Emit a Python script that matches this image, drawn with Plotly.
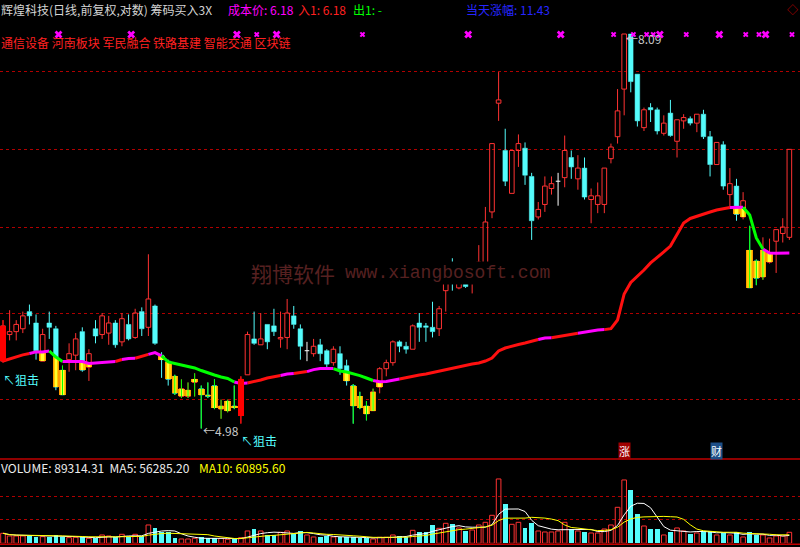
import numpy as np
import pandas as pd
import plotly.graph_objects as go

# ---------------- data ----------------
open_ = [5.41, 5.59, 5.61, 5.63, 5.75, 5.67, 5.41, 5.67, 5.63, 5.35,
         5.42, 5.45, 5.61, 5.37, 5.63, 5.59, 5.60, 5.67, 5.54, 5.66,
         5.57, 5.75, 5.64, 5.79, 5.45, 5.41, 5.31, 5.18, 5.18, 5.27,
         5.23, 5.19, 5.25, 5.10, 5.09, 5.12, 5.06, 5.32, 5.56, 5.52,
         5.66, 5.65, 5.56, 5.57, 5.72, 5.63, 5.48, 5.46, 5.52, 5.48,
         5.40, 5.46, 5.38, 5.25, 5.18, 5.12, 5.09, 5.24, 5.36, 5.40,
         5.54, 5.51, 5.49, 5.67, 5.65, 5.64, 5.63, 5.90, 6.08, 5.92,
         6.04, 5.96, 5.99, 6.05, 6.50, 7.43, 7.01, 6.65, 7.01, 7.03,
         6.79, 6.46, 6.56, 6.69, 6.75, 6.78, 6.95, 6.77, 6.86, 6.60,
         6.56, 6.56, 6.94, 7.13, 7.56, 8.09, 7.70, 7.21, 7.39, 7.37,
         7.16, 7.34, 7.09, 7.27, 7.29, 7.25, 7.33, 7.13, 6.89, 7.06,
         6.64, 6.71, 6.46, 6.20, 6.12, 6.00, 6.11, 6.27, 6.33, 6.30]
high_ = [5.69, 5.76, 5.69, 5.75, 5.80, 5.73, 5.63, 5.75, 5.65, 5.38,
         5.53, 5.60, 5.64, 5.49, 5.69, 5.74, 5.72, 5.69, 5.74, 5.73,
         5.77, 5.78, 6.17, 5.80, 5.47, 5.42, 5.32, 5.29, 5.27, 5.33,
         5.25, 5.27, 5.29, 5.16, 5.16, 5.25, 5.31, 5.61, 5.75, 5.74,
         5.66, 5.77, 5.75, 5.84, 5.79, 5.66, 5.54, 5.56, 5.56, 5.49,
         5.51, 5.51, 5.42, 5.26, 5.21, 5.15, 5.23, 5.37, 5.42, 5.55,
         5.55, 5.54, 5.66, 5.74, 5.67, 5.82, 5.79, 6.07, 6.14, 6.05,
         6.07, 6.08, 6.24, 6.54, 7.07, 7.72, 7.20, 7.01, 7.15, 7.08,
         6.82, 6.58, 6.79, 6.79, 6.82, 7.14, 7.01, 6.97, 6.95, 6.69,
         6.74, 6.86, 7.07, 7.56, 8.09, 8.09, 7.70, 7.39, 7.43, 7.39,
         7.32, 7.46, 7.28, 7.33, 7.31, 7.33, 7.37, 7.18, 7.08, 7.09,
         6.86, 6.77, 6.66, 6.39, 6.13, 6.30, 6.29, 6.36, 6.45, 7.02]
low_ = [5.40, 5.55, 5.55, 5.60, 5.66, 5.42, 5.41, 5.56, 5.22, 5.19,
        5.34, 5.35, 5.34, 5.28, 5.53, 5.56, 5.52, 5.50, 5.51, 5.55,
        5.56, 5.58, 5.58, 5.52, 5.30, 5.25, 5.19, 5.17, 5.17, 5.18,
        4.98, 5.17, 5.10, 5.04, 5.08, 5.10, 5.01, 5.32, 5.52, 5.52,
        5.49, 5.58, 5.50, 5.49, 5.63, 5.42, 5.41, 5.44, 5.41, 5.36,
        5.38, 5.32, 5.25, 5.01, 5.10, 5.03, 5.09, 5.20, 5.31, 5.38,
        5.47, 5.46, 5.49, 5.54, 5.54, 5.57, 5.58, 5.75, 5.90, 5.91,
        5.92, 5.88, 5.96, 6.01, 6.45, 7.27, 6.71, 6.65, 6.87, 6.72,
        6.28, 6.44, 6.50, 6.64, 6.55, 6.70, 6.77, 6.68, 6.60, 6.41,
        6.49, 6.49, 6.90, 7.07, 7.32, 7.53, 7.22, 7.18, 7.26, 7.15,
        7.14, 7.13, 6.95, 7.20, 7.23, 7.17, 7.11, 6.79, 6.89, 6.68,
        6.54, 6.43, 6.44, 5.92, 5.94, 5.98, 6.10, 6.03, 6.26, 6.28]
close_ = [5.65, 5.61, 5.66, 5.72, 5.72, 5.48, 5.59, 5.64, 5.24, 5.19,
          5.46, 5.56, 5.35, 5.46, 5.58, 5.72, 5.67, 5.52, 5.70, 5.56,
          5.74, 5.63, 5.84, 5.53, 5.42, 5.29, 5.20, 5.23, 5.22, 5.29,
          5.19, 5.18, 5.11, 5.12, 5.15, 5.11, 5.29, 5.59, 5.53, 5.56,
          5.54, 5.61, 5.57, 5.74, 5.66, 5.51, 5.48, 5.51, 5.46, 5.39,
          5.49, 5.36, 5.28, 5.12, 5.11, 5.07, 5.21, 5.36, 5.40, 5.54,
          5.51, 5.49, 5.65, 5.64, 5.64, 5.61, 5.77, 6.04, 5.96, 6.01,
          5.93, 6.05, 6.11, 6.42, 7.07, 7.46, 6.75, 7.01, 7.07, 6.80,
          6.43, 6.52, 6.71, 6.73, 6.75, 7.01, 6.87, 6.86, 6.62, 6.63,
          6.63, 6.86, 7.04, 7.36, 8.09, 7.63, 7.27, 7.37, 7.37, 7.18,
          7.25, 7.14, 7.28, 7.30, 7.25, 7.33, 7.13, 6.89, 7.08, 6.71,
          6.73, 6.48, 6.59, 5.92, 5.99, 6.20, 6.18, 6.36, 6.38, 7.02]
volume = [81200, 59550, 59550, 59550, 59550, 54130, 54130, 54130, 67670, 54130,
          46010, 48720, 51430, 40600, 40600, 67670, 59550, 48720, 73080, 48720,
          73080, 59550, 148870, 127220, 89320, 89320, 46010, 35190, 35190, 40600,
          48720, 40600, 40600, 40600, 32480, 32480, 46010, 100150, 116390, 100150,
          67670, 67670, 89320, 100150, 75790, 100150, 67670, 51430, 51430, 59550,
          51430, 51430, 51430, 51430, 40600, 40600, 35190, 48720, 48720, 67670,
          59550, 51430, 105560, 89320, 89320, 148870, 121800, 162400, 156990, 124510,
          100150, 108270, 148870, 170520, 227360, 522390, 319390, 154280, 170520, 124510,
          165110, 100150, 92030, 92030, 100150, 170520, 116390, 100150, 92030, 83910,
          83910, 116390, 148870, 292320, 514270, 433070, 238190, 140750, 116390, 116390,
          67670, 92030, 124510, 100150, 75790, 83910, 100150, 100150, 67670, 83910,
          67670, 92030, 51430, 92030, 67670, 67670, 43310, 59550, 59550, 89314.31]
cost_line = [5.411, 5.425, 5.438, 5.452, 5.461, 5.472, 5.472, 5.478, 5.438, 5.408,
             5.407, 5.407, 5.407, 5.395, 5.398, 5.403, 5.405, 5.408, 5.421, 5.428,
             5.429, 5.441, 5.455, 5.467, 5.445, 5.405, 5.395, 5.385, 5.375, 5.365,
             5.348, 5.332, 5.319, 5.306, 5.296, 5.273, 5.264, 5.267, 5.275, 5.286,
             5.299, 5.306, 5.315, 5.325, 5.328, 5.335, 5.341, 5.354, 5.361, 5.362,
             5.361, 5.345, 5.338, 5.328, 5.315, 5.299, 5.283, 5.275, 5.276, 5.286,
             5.292, 5.302, 5.309, 5.319, 5.325, 5.335, 5.345, 5.354, 5.364, 5.371,
             5.381, 5.391, 5.398, 5.411, 5.431, 5.478, 5.498, 5.512, 5.522, 5.532,
             5.546, 5.556, 5.566, 5.568, 5.577, 5.584, 5.590, 5.599, 5.607, 5.618,
             5.621, 5.624, 5.631, 5.691, 5.876, 5.960, 6.004, 6.052, 6.105, 6.150,
             6.188, 6.233, 6.326, 6.412, 6.448, 6.467, 6.483, 6.499, 6.515, 6.523,
             6.535, 6.537, 6.537, 6.475, 6.295, 6.210, 6.180, 6.178, 6.178, 6.180]
cost_color_runs = [("r", 5), ("m", 3), ("g", 2), ("m", 8), ("r", 1), ("m", 2), ("r", 2),
                   ("m", 2), ("g", 11), ("m", 2), ("r", 5), ("m", 2), ("r", 2), ("m", 4),
                   ("g", 6), ("m", 4), ("r", 21), ("m", 2), ("r", 4), ("m", 4), ("r", 19),
                   ("m", 2), ("g", 3), ("m", 4)]
signal_idx = [0, 36]
mark_big = [8, 19, 35, 41, 70, 84, 99, 108, 115]
mark_small = [38, 54, 92, 95, 97, 98, 103, 112, 114, 119]
event_idx = [94, 108]
event_text = ["涨", "财"]
event_bg = ["#a00000", "#1d4f88"]
main_grid = [5.162, 5.738, 6.378, 7.020, 7.723]
vol_grid = [195000, 378000]

title_text = "辉煌科技(日线,前复权,对数) 筹码买入3X"
cost_text = "成本价: 6.18"
in_text = "入1: 6.18"
out_text = "出1: -"
gain_text = "当天涨幅: 11.43"
concept_text = "通信设备 河南板块 军民融合 铁路基建 智能交通 区块链"
vol_text = "VOLUME: 89314.31  MA5: 56285.20"
ma10_text = "MA10: 60895.60"
signal_text = "↖狙击"
wm_cn = "翔博软件"
wm_url = "www.xiangbosoft.com"

# ---------------- styling ----------------
W, H = 800, 547
CJK = "Noto Sans CJK SC, Noto Sans, sans-serif"
UP = "#ff3232"
DN = "#54fcfc"
RED_LINE = "#ff1010"
MAG = "#ff00ff"
GRN = "#00ff00"
BODY_W = 0.7
MAIN_BOTTOM_PX = 458.0
VOL_TOP_PX = 459.0
VOL_BASE_PX = 543.3
X_RANGE = [-0.454, 120.61]
Y_RANGE = [0.68147, 0.92611]       # log10 price
VOL_RANGE = [0, 684500]
MARK_DX = 0.4


def pp(py):
    return 1 - py / H


O = np.array(open_)
Hh = np.array(high_)
L = np.array(low_)
C = np.array(close_)
line = np.array(cost_line)
V = np.array(volume, dtype=float)
n = len(C)
idx = np.arange(n)
up = C > O
dn = C < O
eq = C == O

fig = go.Figure()


def wicks(mask):
    xs, ys = [], []
    for i in np.where(mask)[0]:
        top, bot = max(O[i], C[i]), min(O[i], C[i])
        xs += [i, i, None, i, i, None]
        ys += [Hh[i], top, None, bot, L[i], None]
    return xs, ys


for mask, col in [(up, UP), (dn, DN), (eq, "#ffffff")]:
    xs, ys = wicks(mask)
    fig.add_trace(go.Scatter(x=xs, y=ys, mode="lines", line=dict(color=col, width=1),
                             hoverinfo="skip", xaxis="x", yaxis="y"))

# candle bodies
fig.add_trace(go.Bar(x=idx[up], y=(C - O)[up], base=O[up], width=BODY_W,
                     marker=dict(color="rgba(0,0,0,0)", line=dict(color=UP, width=1)),
                     xaxis="x", yaxis="y", hoverinfo="skip"))
fig.add_trace(go.Bar(x=idx[dn], y=(O - C)[dn], base=C[dn], width=BODY_W,
                     marker=dict(color=DN, line=dict(color=DN, width=0.5)),
                     xaxis="x", yaxis="y", hoverinfo="skip"))
dx, dy = [], []
for i in np.where(eq)[0]:
    dx += [i - BODY_W / 2, i + BODY_W / 2, None]
    dy += [O[i], O[i], None]
fig.add_trace(go.Scatter(x=dx, y=dy, mode="lines", line=dict(color="#ffffff", width=1),
                         hoverinfo="skip", xaxis="x", yaxis="y"))

# part of body below the cost line -> yellow gradient bar
bot = np.minimum(O, C)
top = np.minimum(np.maximum(O, C), line)
ymask = top > bot
for w, col in [(1.0, "#ff9a00"), (0.7, "#ffcc00"), (0.36, "#ffff30")]:
    fig.add_trace(go.Bar(x=idx[ymask], y=(top - bot)[ymask], base=bot[ymask], width=w,
                         marker=dict(color=col, line=dict(width=0)),
                         xaxis="x", yaxis="y", hoverinfo="skip"))
gx, gy = [], []
for i in np.where(np.maximum(O, C) < line)[0]:
    gx += [i, i, None]
    gy += [L[i], min(Hh[i], line[i]), None]
fig.add_trace(go.Scatter(x=gx, y=gy, mode="lines", line=dict(color=GRN, width=1),
                         hoverinfo="skip", xaxis="x", yaxis="y"))

# cost line (overlay axis y3)
codes = "".join(c * k for c, k in cost_color_runs)
cmap = {"r": RED_LINE, "m": MAG, "g": GRN}
runs = []
s = 0
while s < n:
    e = s
    while e + 1 < n and codes[e + 1] == codes[s]:
        e += 1
    runs.append((codes[s], s, e))
    s = e + 1
for code in ["r", "m", "g"]:
    xs, ys = [], []
    for c, s, e in runs:
        if c != code:
            continue
        for i in range(max(s - 1, 0), e + 1):
            xs.append(i)
            ys.append(line[i])
        xs.append(None)
        ys.append(None)
    fig.add_trace(go.Scatter(x=xs, y=ys, mode="lines", line=dict(color=cmap[code], width=3),
                             hoverinfo="skip", xaxis="x", yaxis="y3"))

# signal candles (overlay axis y4)
sx, sy = [], []
for i in signal_idx:
    sx += [i, i, None]
    sy += [L[i], Hh[i], None]
fig.add_trace(go.Scatter(x=sx, y=sy, mode="lines", line=dict(color="#ff0000", width=1),
                         hoverinfo="skip", xaxis="x", yaxis="y4"))
si = np.array(signal_idx)
fig.add_trace(go.Bar(x=si, y=np.abs(C[si] - O[si]), base=np.minimum(O[si], C[si]), width=0.8,
                     marker=dict(color="#ff0000", line=dict(width=0)),
                     xaxis="x", yaxis="y4", hoverinfo="skip"))

# top marks (overlay y5, linear 0..1)
MARK_ROW = 1 - 34.5 / MAIN_BOTTOM_PX
for lst, size in [(mark_big, 7), (mark_small, 5)]:
    fig.add_trace(go.Scatter(x=np.array(lst) + MARK_DX, y=[MARK_ROW] * len(lst), mode="markers",
                             marker=dict(symbol="x", size=size, color=MAG, line=dict(width=0)),
                             hoverinfo="skip", xaxis="x", yaxis="y5"))

# volume panel
fig.add_trace(go.Bar(x=idx[C >= O], y=V[C >= O], width=BODY_W,
                     marker=dict(color="rgba(0,0,0,0)", line=dict(color=UP, width=1)),
                     xaxis="x", yaxis="y2", hoverinfo="skip"))
fig.add_trace(go.Bar(x=idx[C < O], y=V[C < O], width=BODY_W,
                     marker=dict(color=DN, line=dict(width=0)),
                     xaxis="x", yaxis="y2", hoverinfo="skip"))
vs = pd.Series(V)
fig.add_trace(go.Scatter(x=idx, y=vs.rolling(5, min_periods=1).mean(), mode="lines",
                         line=dict(color="#ffffff", width=1), xaxis="x", yaxis="y2", hoverinfo="skip"))
fig.add_trace(go.Scatter(x=idx, y=vs.rolling(10, min_periods=1).mean(), mode="lines",
                         line=dict(color="#ffff00", width=1), xaxis="x", yaxis="y2", hoverinfo="skip"))

# ---------------- annotations ----------------
ann = []


def txt(t, px, py, color, size=12, family=CJK, **kw):
    d = dict(text=t, x=px / W, y=pp(py), xref="paper", yref="paper", xanchor="left",
             yanchor="middle", showarrow=False, font=dict(family=family, size=size, color=color))
    d.update(kw)
    ann.append(d)


txt(title_text, -1, 9, "#d4d4d4")
txt(cost_text, 226, 9, MAG)
txt(in_text, 296, 9, "#ff2020")
txt(out_text, 351, 9, GRN)
txt(gain_text, 464, 9, "#2626ff")
txt(concept_text, -1, 42, "#ff2020")
txt(vol_text, -1, 467.5, "#ececec")
txt(ma10_text, 197, 467.5, "#ffff00")
txt("◇", 785, 9.5, "#d00000", size=11)
txt(wm_cn, 249, 273, "#562020", size=21, bgcolor="#000000")
txt(wm_url, 343, 273, "#562020", size=18, family="Liberation Mono, DejaVu Sans Mono, monospace",
    bgcolor="#000000")

ihi = int(np.argmax(Hh))
ilo = int(np.argmin(L))
ann.append(dict(text="←%.2f" % Hh[ihi], x=ihi, y=np.log10(Hh[ihi]), xref="x", yref="y",
                xanchor="left", yanchor="middle", yshift=-4, showarrow=False,
                font=dict(family=CJK, size=12, color="#c8c8c8")))
ann.append(dict(text="←%.2f" % L[ilo], x=ilo, y=np.log10(L[ilo]), xref="x", yref="y",
                xanchor="left", yanchor="middle", yshift=-2, showarrow=False,
                font=dict(family=CJK, size=12, color="#c8c8c8")))
for i in signal_idx:
    ann.append(dict(text=signal_text, x=i, y=np.log10(L[i]), xref="x", yref="y",
                    xanchor="left", yanchor="middle", yshift=-17, xshift=-2, showarrow=False,
                    font=dict(family=CJK, size=12, color=DN)))
for i, t, bg in zip(event_idx, event_text, event_bg):
    ann.append(dict(text=t, x=i, y=pp(451), xref="x", yref="paper", xanchor="center",
                    yanchor="middle", showarrow=False, bgcolor=bg, borderpad=0,
                    font=dict(family=CJK, size=11, color="#ffffff")))

shapes = [
    dict(type="line", xref="paper", yref="paper", x0=0, x1=1, y0=pp(VOL_TOP_PX), y1=pp(VOL_TOP_PX),
         line=dict(color="#c00000", width=1.5)),
    dict(type="line", xref="paper", yref="paper", x0=0, x1=1, y0=pp(544.3), y1=pp(544.3),
         line=dict(color="#c00000", width=1.5)),
]

main_dom = [pp(MAIN_BOTTOM_PX), 1]
log_ax = dict(type="log", range=Y_RANGE, visible=False, fixedrange=True)
fig.update_layout(
    width=W, height=H, margin=dict(l=0, r=0, t=0, b=0),
    paper_bgcolor="#000000", plot_bgcolor="#000000",
    showlegend=False, barmode="overlay", bargap=0,
    xaxis=dict(range=X_RANGE, visible=False, fixedrange=True),
    yaxis=dict(type="log", range=Y_RANGE, domain=main_dom, showticklabels=False, ticks="",
               tickvals=main_grid, showgrid=True, gridcolor="#b00000", griddash="dot", gridwidth=1,
               zeroline=False, showline=False, fixedrange=True),
    yaxis2=dict(range=VOL_RANGE, domain=[pp(VOL_BASE_PX), pp(VOL_TOP_PX)], showticklabels=False,
                ticks="", tickvals=vol_grid, showgrid=True, gridcolor="#b00000", griddash="dot",
                gridwidth=1, zeroline=False, showline=False, fixedrange=True),
    yaxis3=dict(overlaying="y", **log_ax),
    yaxis4=dict(overlaying="y", **log_ax),
    yaxis5=dict(overlaying="y", range=[0, 1], visible=False, fixedrange=True),
    annotations=ann, shapes=shapes,
)

fig.write_html(
    "out.html",
    config={"displayModeBar": False, "staticPlot": True},
    post_script="document.body.style.margin='0px';document.body.style.padding='0px';"
                "document.body.style.overflow='hidden';document.body.style.background='#000';",
)
